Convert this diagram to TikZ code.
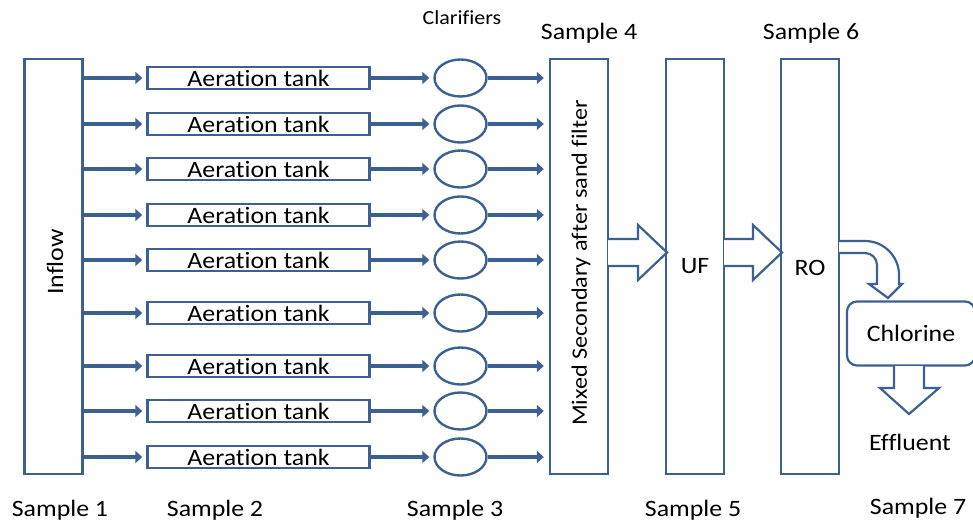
\documentclass[tikz,border=0pt]{standalone}
\usepackage{fontspec}
\setmainfont{Carlito}[FakeStretch=1.1,Ligatures=NoCommon]
\usetikzlibrary{arrows.meta,shapes.geometric}
\definecolor{ln}{RGB}{60,96,145}
\tikzset{
  box/.style={draw=ln,line width=2.4pt,rectangle,minimum width=58pt,minimum height=415pt,inner sep=0pt},
  tank/.style={draw=ln,line width=2.4pt,rectangle,minimum width=222pt,minimum height=22pt,inner sep=0pt,font=\fontsize{23.5}{24}\selectfont},
  clar/.style={draw=ln,line width=2.4pt,ellipse,minimum width=52pt,minimum height=37pt,inner sep=0pt},
  arr/.style={draw=ln,line width=4pt,-{Triangle[length=7pt,width=12pt]}},
  blk/.style={draw=ln,line width=2.2pt,fill=white,line join=miter},
  lbl/.style={font=\fontsize{23.5}{24}\selectfont,inner sep=0pt},
}
\begin{document}
\begin{tikzpicture}[x=1pt,y=-1pt]
\useasboundingbox (0,0) rectangle (973,525);
% big vertical boxes
\node[box] (inflow) at (53.5,266.5) {};
\node[box] (mixed) at (579,266.5) {};
\node[box] (uf) at (695,266.5) {};
\node[box] (ro) at (810,266.5) {};
\node[lbl,rotate=90] (inflowt) at (55,262) {Inflow};
\node[inner sep=0pt,font=\fontsize{22}{24}\selectfont,rotate=90] (mixedt) at (581,263) {Mixed Secondary after sand filter};
\node[lbl] (uft) at (695,266) {UF};
\node[lbl] (rot) at (810,268) {RO};
% tanks and clarifiers
\foreach \i/\y in {1/78,2/124,3/169,4/215,5/260,6/313,7/366,8/411,9/457}{
  \node[tank] (t\i) at (258.5,\y) {Aeration tank};
  \node[clar] (c\i) at (460.5,\y) {};
  \draw[arr,shorten >=4pt] (inflow.east |- t\i.west) -- (t\i.west);
  \draw[arr,shorten >=4pt] (t\i.east) -- (c\i.west);
  \draw[arr,shorten >=5pt] (c\i.east) -- (c\i.east -| mixed.west);
}
% block arrows
\draw[blk] (608,239) -- (638,239) -- (638,225) -- (667,252.5) -- (638,280) -- (638,266) -- (608,266);
\draw[blk] (724,239) -- (753,239) -- (753,225) -- (782,252.5) -- (753,280) -- (753,266) -- (724,266);
% chlorine
\node[draw=ln,line width=2.2pt,rounded corners=10pt,minimum width=128pt,minimum height=64pt,inner sep=0pt,font=\fontsize{23.5}{24}\selectfont] (chl) at (911,333.5) {Chlorine};
% curved arrow RO -> chlorine
\draw[blk] (839,241) -- (865,241) arc[start angle=-90,end angle=0,radius=34] -- (899,284) -- (902,284) -- (888,298) -- (869,284) -- (877,284) -- (877,265) arc[start angle=0,end angle=-90,radius=12] -- (839,253);
% down arrow chlorine -> effluent
\draw[blk] (894,366) -- (894,388) -- (880,388) -- (909,414) -- (939,388) -- (924,388) -- (924,366);
\node[lbl] (eff) at (910,442) {Effluent};
% labels
\node[font=\fontsize{20}{22}\selectfont,inner sep=0pt] (clt) at (462,18) {Clarifiers};
\node[lbl] (s1) at (60,510) {Sample 1};
\node[lbl] (s2) at (215,510) {Sample 2};
\node[lbl] (s3) at (455,510) {Sample 3};
\node[lbl] (s4) at (589,33) {Sample 4};
\node[lbl] (s5) at (693,510) {Sample 5};
\node[lbl] (s6) at (811,33) {Sample 6};
\node[lbl] (s7) at (918,508) {Sample 7};
\end{tikzpicture}
\end{document}
